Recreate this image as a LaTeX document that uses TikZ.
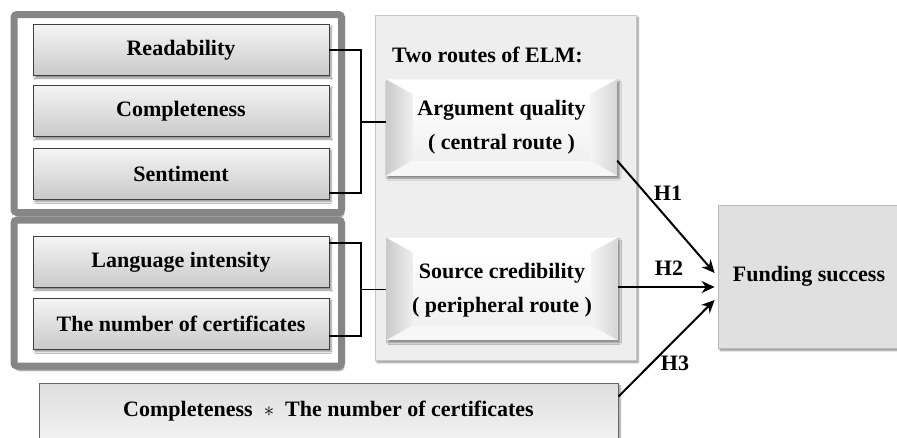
\documentclass[tikz,border=0pt]{standalone}
\usepackage{fontspec}
\setmainfont{Liberation Serif}
\usetikzlibrary{shadows.blur,arrows.meta,calc}
\begin{document}
\begin{tikzpicture}[x=1pt,y=-1pt,
  every node/.style={font=\fontsize{22}{34}\selectfont\bfseries},
  sh/.style={blur shadow={shadow xshift=2pt,shadow yshift=-2.5pt,shadow blur steps=6,shadow opacity=45}},
  varbox/.style={draw=black!75, line width=0.9pt, top color=gray!8, bottom color=gray!42,
     minimum width=296, minimum height=51, inner sep=0, sh},
  group/.style={draw=gray!95, line width=7pt, fill=white, rounded corners=3pt,
     blur shadow={shadow xshift=2pt,shadow yshift=-4pt,shadow blur steps=8,shadow opacity=55}},
  panel/.style={draw=gray!45, line width=0.8pt, fill=gray!13, sh},
  bevelbox/.style={minimum width=231, minimum height=96, inner sep=0, align=center},
  conn/.style={draw=black, line width=1.5pt},
  arr/.style={draw=black, line width=2pt, -{Stealth[length=13pt,width=12pt]}},
  lab/.style={inner sep=0}
]
\useasboundingbox (0,0) rectangle (897,437);
\clip (0,0) rectangle (897,437);

% ELM panel
\node[panel, minimum width=261, minimum height=345, inner sep=0] (elm) at (505.5,187.5) {};
\node[anchor=west, inner sep=0] (elmtitle) at (392,55) {Two routes of ELM:};

% group frames
\draw[group] (14,14.5) rectangle (341.5,212.5);
\draw[group] (14,220) rectangle (341.5,366);

% variable boxes
\node[varbox] (read) at (181,50) {Readability};
\node[varbox] (comp) at (181,111) {Completeness};
\node[varbox] (sent) at (181,173.5) {Sentiment};
\node[varbox] (lang) at (181,262) {Language intensity};
\node[varbox] (num) at (181,323.5) {The number of certificates};

% interaction box
\node[draw=black!60, line width=0.9pt, top color=gray!26, bottom color=gray!10,
      minimum width=579, minimum height=56, inner sep=0, sh] (inter) at (328.5,411)
      {Completeness \ $\ast$ \ The number of certificates};

% funding success
\node[draw=gray!55, line width=0.8pt, fill=gray!24, minimum width=182, minimum height=143,
      inner sep=0, sh] (fund) at (809,276.5) {Funding success};

% bevel boxes
\newcommand{\bevelfacets}[1]{%
  \fill[gray!12, sh] (#1.north west) rectangle (#1.south east);
  \fill[white] (#1.north west) -- (#1.north east) -- ($(#1.north east)+(-27,15)$) -- ($(#1.north west)+(27,15)$) -- cycle;
  \shade[left color=gray!42, right color=gray!12] (#1.north west) -- ($(#1.north west)+(27,15)$) -- ($(#1.south west)+(27,-15)$) -- (#1.south west) -- cycle;
  \shade[left color=gray!8, right color=gray!32] (#1.north east) -- (#1.south east) -- ($(#1.south east)+(-27,-15)$) -- ($(#1.north east)+(-27,15)$) -- cycle;
  \fill[gray!6] (#1.south west) -- (#1.south east) -- ($(#1.south east)+(-27,-15)$) -- ($(#1.south west)+(27,-15)$) -- cycle;
  \shade[top color=white, bottom color=gray!12] ($(#1.north west)+(27,15)$) rectangle ($(#1.south east)+(-27,-15)$);
}
\path node[bevelbox] (arg) at (501.5,127.5) {};
\bevelfacets{arg}
\node[bevelbox] (argtxt) at (501.5,127.5) {Argument quality\\( central route )};
\path node[bevelbox, minimum height=102] (src) at (502,289) {};
\bevelfacets{src}
\node[bevelbox] (srctxt) at (502,290.5) {Source credibility\\( peripheral route )};

% brackets
\coordinate (b1) at (361,122);
\draw[conn] (read.east) -| (b1) |- ($(sent.east)+(0,19.5)$);
\draw[conn] (b1) -- (b1 -| arg.west);
\coordinate (b2) at (361,289.5);
\draw[conn] ($(lang.east)+(0,-19)$) -| (b2) |- ($(num.east)+(0,12.5)$);
\draw[conn] (b2) -- (b2 -| src.west);

% hypotheses arrows
\draw[arr] ($(arg.south east)+(0,-15)$) -- ($(fund.west)+(-3,-3.5)$);
\draw[arr] ($(src.east)+(0,-2)$) -- ($(fund.west)+(-3,10.5)$);
\draw[arr] ($(inter.north east)+(0,14)$) -- ($(fund.west)+(-3,23.5)$);
\node[lab] (h1) at (668,193) {H1};
\node[lab] (h2) at (669,268) {H2};
\node[lab] (h3) at (675,363) {H3};
\end{tikzpicture}
\end{document}
